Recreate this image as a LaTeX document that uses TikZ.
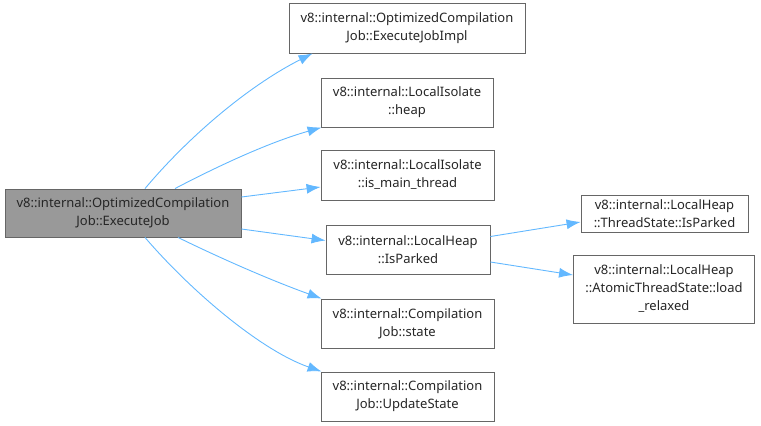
\documentclass[tikz,border=0pt]{standalone}
\usepackage{fontspec}
\setmainfont{Noto Sans}
\usetikzlibrary{arrows.meta}
\definecolor{edgec}{HTML}{63B8FF}
\definecolor{boxc}{HTML}{666666}
\definecolor{rootfill}{HTML}{999999}
\tikzset{
  fn/.style={draw=boxc, line width=0.9pt, fill=white, align=center, inner sep=0pt,
    font=\fontsize{13}{18}\selectfont, text=black!85},
  rootbox/.style={fn, fill=rootfill},
  edge/.style={draw=edgec, line width=0.9pt, -{Latex[length=14pt,width=10pt]}},
}
\begin{document}
\begin{tikzpicture}[x=1pt,y=-1pt]
\useasboundingbox (0,0) rectangle (761,426);
\node[rootbox, minimum width=236pt, minimum height=48pt] (root) at (123,213) {v8::internal::OptimizedCompilation\\Job::ExecuteJob};
\node[fn, minimum width=236pt, minimum height=50pt] (A) at (407,28) {v8::internal::OptimizedCompilation\\Job::ExecuteJobImpl};
\node[fn, minimum width=172pt, minimum height=49pt] (B) at (407,102.5) {v8::internal::LocalIsolate\\::heap};
\node[fn, minimum width=173pt, minimum height=50pt] (C) at (407.5,175) {v8::internal::LocalIsolate\\::is\_main\_thread};
\node[fn, minimum width=164pt, minimum height=49pt] (D) at (408,249.5) {v8::internal::LocalHeap\\::IsParked};
\node[fn, minimum width=173pt, minimum height=49pt] (E) at (407.5,323.5) {v8::internal::Compilation\\Job::state};
\node[fn, minimum width=173pt, minimum height=49pt] (F) at (407.5,396.5) {v8::internal::Compilation\\Job::UpdateState};
\node[fn, minimum width=167pt, minimum height=37pt] (G) at (664.5,213.5) {v8::internal::LocalHeap\\::ThreadState::IsParked};
\node[fn, minimum width=181pt, minimum height=68pt] (H) at (664,289) {v8::internal::LocalHeap\\::AtomicThreadState::load\\\_relaxed};

\draw[edge] ([xshift=22pt]root.north) .. controls (190,135) and (250,85) .. ([xshift=24pt]A.south west);
\draw[edge] ([xshift=52pt]root.north) .. controls (220,165) and (270,142) .. ([xshift=1pt]B.south west);
\draw[edge] ([yshift=16pt]root.east) -- ([yshift=-12pt]C.west);
\draw[edge] ([yshift=-16pt]root.east) -- ([yshift=9pt]D.west);
\draw[edge] ([xshift=55pt]root.south) .. controls (220,258) and (270,280) .. ([xshift=1pt]E.north west);
\draw[edge] ([xshift=22pt]root.south) .. controls (190,290) and (260,350) .. ([xshift=1pt]F.north west);
\draw[edge] ([yshift=13pt]D.east) -- ([yshift=-8.5pt]G.west);
\draw[edge] ([yshift=-12.5pt]D.east) -- ([yshift=14pt]H.west);
\end{tikzpicture}
\end{document}
